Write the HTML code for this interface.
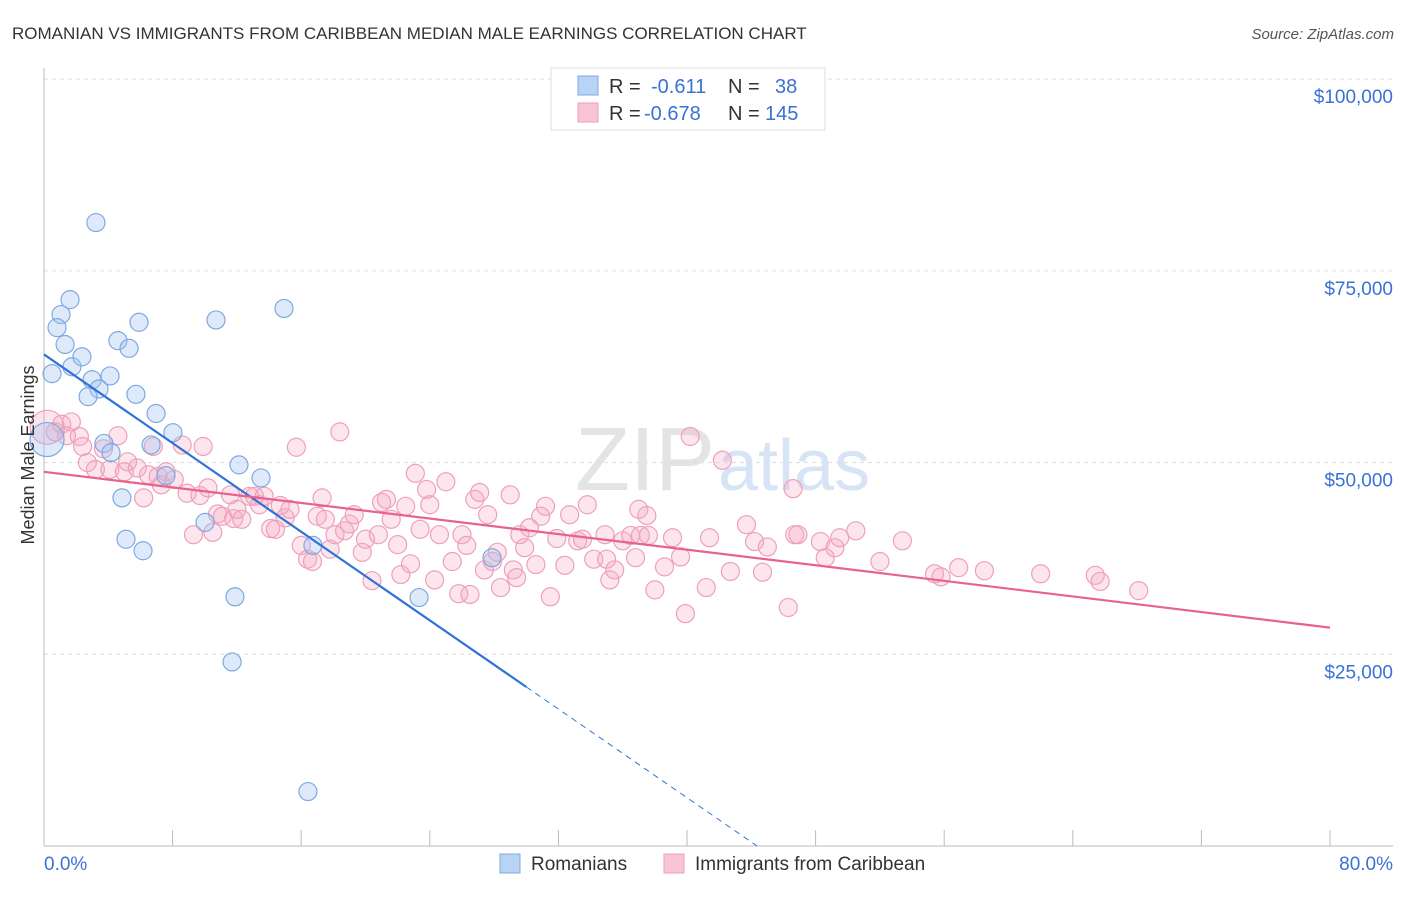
<!DOCTYPE html>
<html><head><meta charset="utf-8">
<style>
body{margin:0;background:#fff;font-family:"Liberation Sans",sans-serif;}
svg text{font-family:"Liberation Sans",sans-serif;}
</style></head>
<body>
<svg width="1406" height="892" id="chart">
<text x="12" y="39" font-size="17" fill="#333">ROMANIAN VS IMMIGRANTS FROM CARIBBEAN MEDIAN MALE EARNINGS CORRELATION CHART</text>
<text x="1394" y="39" font-size="15" fill="#555" text-anchor="end" font-style="italic">Source: ZipAtlas.com</text>
<text x="715" y="490" font-size="90" fill="#e4e4e4" font-family="Liberation Serif" text-anchor="end">ZIP</text>
<text x="718" y="490" font-size="72" fill="#d6e4f5">atlas</text>
<g id="grid"></g>
<g id="axes"></g>
<g id="marks"></g>
<text transform="translate(34,455) rotate(-90)" font-size="18" fill="#333" text-anchor="middle">Median Male Earnings</text>
<g>
<rect x="551" y="68" width="274" height="62" fill="#fff" stroke="#ddd"/>
<rect x="578" y="76" width="20" height="19" fill="#b9d3f5" stroke="#7fa9e0"/>
<rect x="578" y="103" width="20" height="19" fill="#f9c5d5" stroke="#ee9fb9"/>
<text x="609" y="93" font-size="20" fill="#333">R = </text><text x="651" y="93" font-size="20" fill="#3a72d4">-0.611</text>
<text x="728" y="93" font-size="20" fill="#333">N = </text><text x="775" y="93" font-size="20" fill="#3a72d4">38</text>
<text x="609" y="120" font-size="20" fill="#333">R = </text><text x="644" y="120" font-size="20" fill="#3a72d4">-0.678</text>
<text x="728" y="120" font-size="20" fill="#333">N = </text><text x="765" y="120" font-size="20" fill="#3a72d4">145</text>
</g>
<g>
<rect x="500" y="854" width="20" height="19" fill="#b9d3f5" stroke="#7fa9e0"/>
<text x="531" y="870" font-size="19" fill="#333">Romanians</text>
<rect x="664" y="854" width="20" height="19" fill="#f9c5d5" stroke="#ee9fb9"/>
<text x="695" y="870" font-size="19" fill="#333">Immigrants from Caribbean</text>
</g>
</svg>
<script>
const yTicks=[25000,50000,75000,100000];
const yTickLabels=["$25,000","$50,000","$75,000","$100,000"];
const xTickVals=[0,8,16,24,32,40,48,56,64,72,80];
const xEndLabels=["0.0%","80.0%"];
const blueX=[3.23,1.62,1.06,0.81,1.31,0.5,1.74,2.36,2.99,4.11,3.42,2.74,4.6,5.29,5.91,5.72,6.97,10.7,14.93,8.02,6.66,3.73,4.17,7.59,12.13,13.5,4.85,10.02,5.1,6.16,16.73,11.88,11.7,23.33,27.87,16.42,0.19];
const blueY=[81.3,71.25,69.3,67.6,65.4,61.6,62.5,63.8,60.8,61.3,59.6,58.6,65.9,64.9,68.3,58.9,56.4,68.6,70.1,53.9,52.3,52.5,51.3,48.3,49.7,48,45.4,42.2,40,38.5,39.2,32.5,24,32.4,37.6,7.1,53];
const blueBig=[36];
const pinkX=[0.2,0.7,1.1,1.7,2.2,1.4,2.4,2.7,3.2,3.7,4.1,4.6,5,5.2,5.8,6.2,6.5,6.8,7.1,7.3,7.6,8.1,8.6,8.9,9.3,9.7,9.9,10.2,10.5,10.8,11.1,11.6,11.8,12,12.3,12.8,13.1,13.4,13.7,14.1,14.4,14.7,15,15.3,15.7,16,16.4,16.7,17,17.3,17.5,17.8,18.1,18.4,18.7,19,19.3,19.8,20,20.4,20.8,21,21.3,21.6,22,22.2,22.5,22.8,23.1,23.4,23.8,24,24.3,24.6,25,25.4,25.8,26,26.3,26.5,26.8,27.1,27.4,27.6,27.9,28.2,28.4,29,29.2,29.4,29.6,29.9,30.2,30.6,30.9,31.2,31.5,31.9,32.4,32.7,33.2,33.5,33.8,34.2,34.9,35,35.2,35.5,36,36.5,36.8,37,37.1,37.5,37.6,38,38.6,39.1,39.6,39.9,40.2,41.2,41.4,42.2,42.7,43.7,44.2,44.7,45,46.3,46.7,46.9,48.3,48.6,49.2,49.5,50.5,52,53.4,55.4,55.8,56.9,58.5,62,65.4,65.7,68.1,46.6];
const pinkY=[54.6,54,55,55.3,53.4,53.5,52.1,50,49.1,51.8,49.1,53.5,48.8,50.1,49.3,45.4,48.4,52.1,48.2,47.1,48.8,47.8,52.3,46,40.6,45.7,52.1,46.7,40.9,43.3,43,45.8,42.7,43.9,42.6,45.6,45.6,44.5,45.6,41.4,41.3,44.4,42.8,43.9,52,39.2,37.4,37.1,43,45.4,42.6,38.7,40.6,54,41.1,42,43.2,38.3,40,34.6,40.6,44.8,45.2,42.6,39.3,35.4,44.3,36.8,48.6,41.3,46.5,44.5,34.7,40.6,47.5,37.1,32.9,40.6,39.2,32.8,45.2,46.1,36,43.2,37.1,38.3,33.7,45.8,36,35,40.6,38.9,41.5,36.7,43,44.3,32.5,40.1,36.6,43.2,39.8,40,44.5,37.4,40.6,37.4,34.7,36,39.8,40.5,37.6,43.9,40.5,43.1,40.5,33.4,36.4,40.2,37.7,30.3,53.4,33.7,40.2,50.3,35.8,41.9,39.7,35.7,39,31.1,40.6,40.6,39.7,37.6,38.9,40.2,41.1,37.1,39.8,35.5,35.1,36.3,35.9,35.5,35.3,34.5,33.3,46.6];
const pinkBig=[0];
const blueTrend=[64.1,-1.445];
const blueSolidEnd=[30];
const pinkTrend=[48.8,-0.254];

const X=p=>44+p*16.075;
const Y=v=>846-v*0.0076683;
const NS='http://www.w3.org/2000/svg';
function mk(t,parent,a){const e=document.createElementNS(NS,t);for(const k in a)e.setAttribute(k,a[k]);parent.appendChild(e);return e;}
const grid=document.getElementById('grid'),axes=document.getElementById('axes'),marks=document.getElementById('marks');
yTicks.forEach((v,i)=>{
 const l=mk('line',grid,{x1:44,x2:1393,y1:Y(v),y2:Y(v),stroke:'#ddd','stroke-dasharray':'4,4'});
 
 
 const t=mk('text',axes,{x:1393,y:Y(v)+24,'font-size':19,fill:'#3a72d4','text-anchor':'end'});
 t.textContent=yTickLabels[i];
 
 
});
mk('line',axes,{x1:44,x2:44,y1:68,y2:846,stroke:'#bbb'});
mk('line',axes,{x1:44,x2:1393,y1:846,y2:846,stroke:'#bbb'});
xTickVals.forEach(p=>{
 const t=mk('line',axes,{x1:X(p),x2:X(p),y1:830,y2:846,stroke:'#bbb'});
 
 
});
const xl0=mk('text',axes,{x:44,y:870,'font-size':19,fill:'#3a72d4'});xl0.textContent=xEndLabels[0];


const xl1=mk('text',axes,{x:1393,y:870,'font-size':19,fill:'#3a72d4','text-anchor':'end'});xl1.textContent=xEndLabels[1];


pinkX.forEach((p,i)=>{
 const c=mk('circle',marks,{cx:X(p),cy:Y(pinkY[i]*1000),r:pinkBig.includes(i)?17:9,fill:'rgba(244,170,196,0.3)',stroke:'#eea0bb','stroke-width':1.2});
 
 
});
blueX.forEach((p,i)=>{
 const c=mk('circle',marks,{cx:X(p),cy:Y(blueY[i]*1000),r:blueBig.includes(i)?17:9,fill:'rgba(160,196,240,0.35)',stroke:'#7fa9e0','stroke-width':1.2});
 
 
});
const bz=-blueTrend[0]/blueTrend[1];
const bl=mk('line',marks,{x1:X(0),y1:Y(blueTrend[0]*1000),x2:X(blueSolidEnd[0]),y2:Y((blueTrend[0]+blueTrend[1]*blueSolidEnd[0])*1000),stroke:'#2f72d8','stroke-width':2.2});


const bd=mk('line',marks,{x1:X(blueSolidEnd[0]),y1:Y((blueTrend[0]+blueTrend[1]*blueSolidEnd[0])*1000),x2:X(bz),y2:Y(0),stroke:'#2f72d8','stroke-width':1,'stroke-dasharray':'6,5'});


const pl=mk('line',marks,{x1:X(0),y1:Y(pinkTrend[0]*1000),x2:X(80),y2:Y((pinkTrend[0]+pinkTrend[1]*80)*1000),stroke:'#e8628f','stroke-width':2.2});


</script>
</body></html>
